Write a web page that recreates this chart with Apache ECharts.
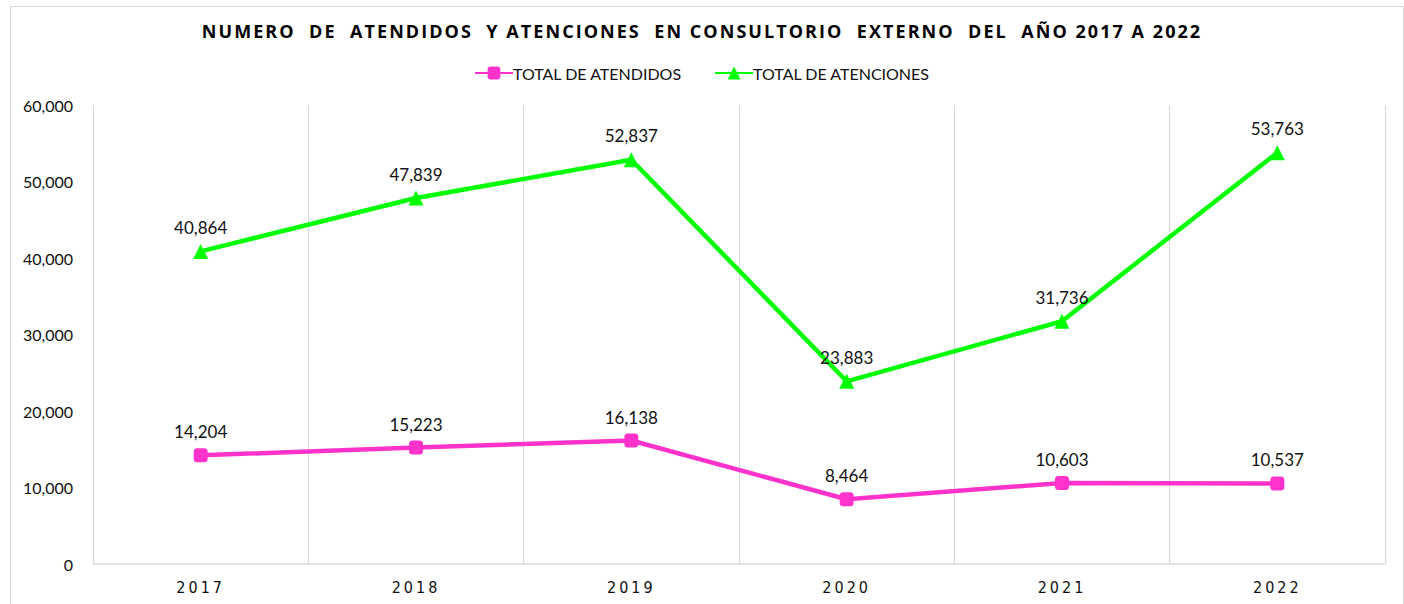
<!DOCTYPE html>
<html><head><meta charset="utf-8">
<script src="https://cdn.jsdelivr.net/npm/echarts@6/dist/echarts.min.js"></script>
<style>
html,body{margin:0;padding:0;background:#fff;}
#c{width:1404px;height:604px;}
#c svg text[style*="bold"]{letter-spacing:2.05px;}
#c svg text[style*="DejaVu Sans Condensed"]{letter-spacing:3px;}
</style>
</head><body>
<div id="c"></div>
<script>
const titleText = 'NUMERO  DE  ATENDIDOS  Y ATENCIONES  EN CONSULTORIO  EXTERNO  DEL  AÑO 2017 A 2022';
const years = ['2017','2018','2019','2020','2021','2022'];
const atendidos = [14204, 15223, 16138, 8464, 10603, 10537];
const atenciones = [40864, 47839, 52837, 23883, 31736, 53763];
const seriesNames = ['TOTAL DE ATENDIDOS', 'TOTAL DE ATENCIONES'];
const yTicks = {min: 0, max: 60000, interval: 10000};

const fmt = v => v.toLocaleString('en-US');
const chart = echarts.init(document.getElementById('c'), null, {renderer: 'svg'});
const labelStyle = {show: true, position: 'top', distance: 8, color: '#111', fontSize: 17, fontFamily: 'Lato',
  formatter: p => fmt(p.value)};
chart.setOption({
  animation: false,
  backgroundColor: '#fff',
  title: {
    text: titleText, left: 'center', top: 17,
    textStyle: {fontFamily: 'Open Sans', fontWeight: 'bold', fontSize: 18, color: '#000'}
  },
  legend: {
    top: 60, left: 'center', itemWidth: 38, itemHeight: 16, itemGap: 32,
    textStyle: {fontFamily: 'Lato', fontSize: 16, color: '#111', padding: [0, 0, 0, -5]},
    data: seriesNames
  },
  graphic: [{
    type: 'rect', left: 8, top: 4, shape: {width: 1393, height: 610},
    style: {fill: 'none', stroke: '#d9d9d9', lineWidth: 1}, silent: true
  }],
  grid: {left: 93, right: 19, top: 105, bottom: 40, containLabel: false},
  xAxis: {
    type: 'category', data: years, boundaryGap: true,
    axisLine: {show: true, lineStyle: {color: '#d9d9d9', width: 1.5}},
    axisTick: {show: false},
    splitLine: {show: true, lineStyle: {color: '#d9d9d9', width: 1.2}},
    axisLabel: {margin: 15, color: '#111', fontSize: 16, fontFamily: 'DejaVu Sans Condensed'}
  },
  yAxis: {
    type: 'value', min: yTicks.min, max: yTicks.max, interval: yTicks.interval,
    axisLine: {show: false}, axisTick: {show: false}, splitLine: {show: false},
    axisLabel: {margin: 20, color: '#111', fontSize: 16, fontFamily: 'Lato', formatter: v => fmt(v)}
  },
  series: [{
    name: seriesNames[0], type: 'line', data: atendidos,
    symbol: 'roundRect', symbolSize: 14,
    lineStyle: {color: '#ff33cc', width: 4.5},
    itemStyle: {color: '#ff33cc'},
    label: labelStyle
  }, {
    name: seriesNames[1], type: 'line', data: atenciones,
    symbol: 'triangle', symbolSize: 15,
    lineStyle: {color: '#00ff00', width: 4.5},
    itemStyle: {color: '#00ff00'},
    label: labelStyle
  }]
});
</script>
</body></html>
